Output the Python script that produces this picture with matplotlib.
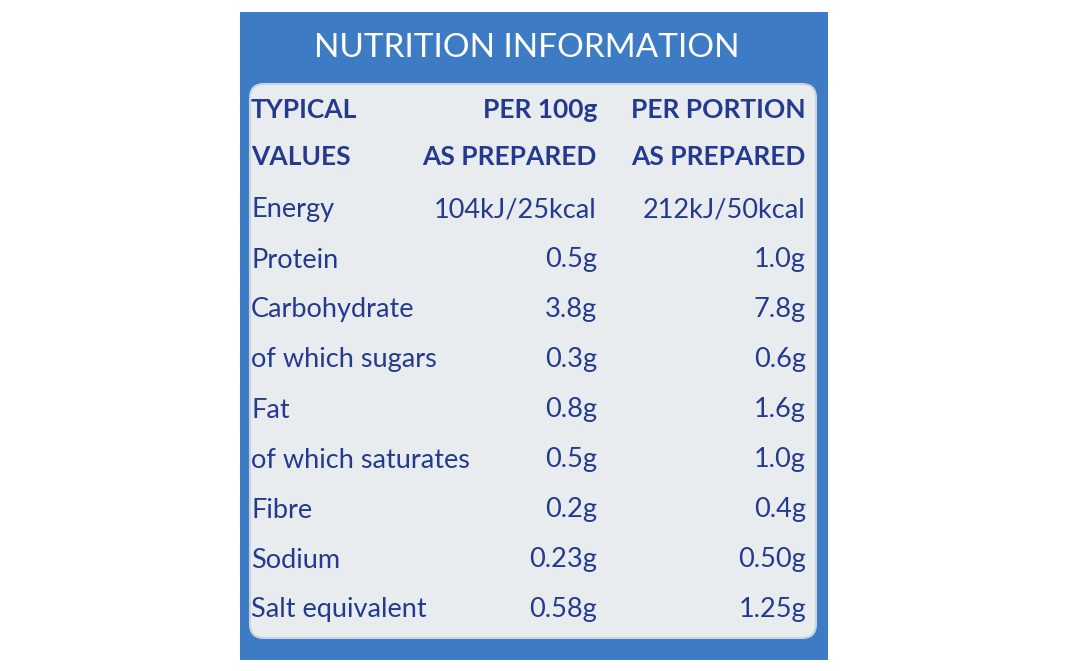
import matplotlib
matplotlib.use("Agg")
import matplotlib.pyplot as plt
from matplotlib.patches import FancyBboxPatch, Rectangle

title = "NUTRITION INFORMATION"
headers = [["TYPICAL", "PER 100g", "PER PORTION"], ["VALUES", "AS PREPARED", "AS PREPARED"]]
nutrients = ["Energy", "Protein", "Carbohydrate", "of which sugars", "Fat",
             "of which saturates", "Fibre", "Sodium", "Salt equivalent"]
per100 = ["104kJ/25kcal", "0.5g", "3.8g", "0.3g", "0.8g", "0.5g", "0.2g", "0.23g", "0.58g"]
perportion = ["212kJ/50kcal", "1.0g", "7.8g", "0.6g", "1.6g", "1.0g", "0.4g", "0.50g", "1.25g"]

W, H = 1068, 671
fig = plt.figure(figsize=(W/100, H/100), dpi=100)
ax = fig.add_axes([0, 0, 1, 1])
ax.set_xlim(0, W); ax.set_ylim(H, 0); ax.axis("off")
fig.patch.set_facecolor("white")

blue = "#3d7cc4"; ink = "#233a8f"
ax.add_patch(Rectangle((240, 12), 588, 648, facecolor=blue, edgecolor="none"))
ax.add_patch(FancyBboxPatch((250, 84), 566, 554, boxstyle="round,pad=0,rounding_size=14",
                            facecolor="#e9ecef", edgecolor="#c9d3df", lw=1.5))
ax.text(527, 48, title, color="white", fontsize=24, ha="center", va="center", family="Lato")

xl, xm, xr = 251, 597, 806
for i, row in enumerate(headers):
    y = 110 + i * 47
    for x, t, ha in ((xl, row[0], "left"), (xm, row[1], "right"), (xr, row[2], "right")):
        ax.text(x, y, t, color=ink, fontsize=19, fontweight="bold", ha=ha, va="center",
                family="Roboto Condensed" if False else "Lato", fontstretch="condensed")

for i, (n, a, b) in enumerate(zip(nutrients, per100, perportion)):
    y = 210 + i * 50
    ax.text(xl, y, n, color=ink, fontsize=19.5, ha="left", va="center", family="Lato")
    ax.text(xm, y, a, color=ink, fontsize=19.5, ha="right", va="center", family="Lato")
    ax.text(xr, y, b, color=ink, fontsize=19.5, ha="right", va="center", family="Lato")

fig.savefig("out.png", dpi=100)
